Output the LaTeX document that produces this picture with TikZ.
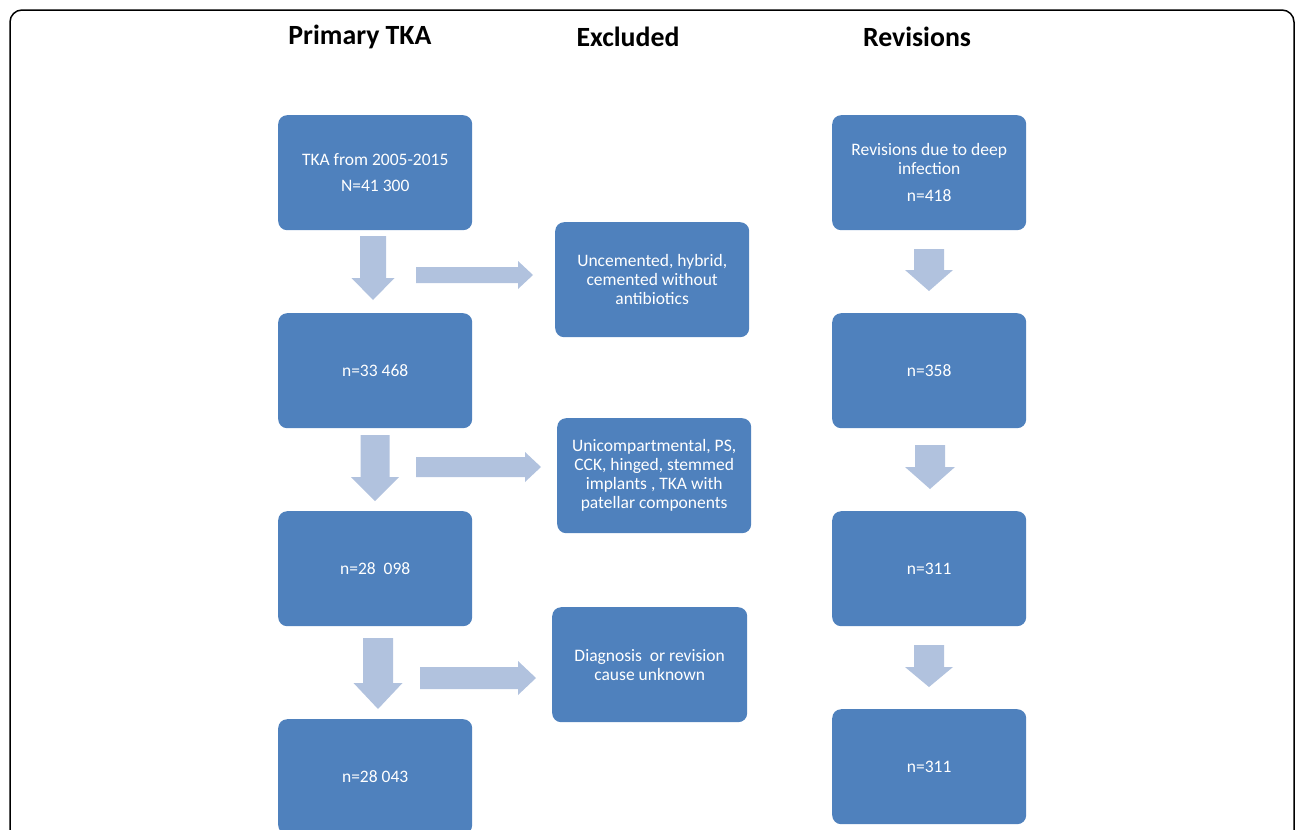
\documentclass[tikz,border=0pt]{standalone}
\usepackage{fontspec}
\setmainfont{Carlito}
\definecolor{boxblue}{HTML}{4F81BD}
\definecolor{arrowblue}{HTML}{B1C2DE}
\newcommand\dnarr[6]{% cx, top, headstart, tip, shaft half, head half
  \fill[arrowblue] ({#1-#5},#2) -- ({#1+#5},#2) -- ({#1+#5},#3) -- ({#1+#6},#3) -- (#1,#4) -- ({#1-#6},#3) -- ({#1-#5},#3) -- cycle;}
\newcommand\rtarr[6]{% cy, left, headstart, tip, shaft half, head half
  \fill[arrowblue] (#2,{#1-#5}) -- (#3,{#1-#5}) -- (#3,{#1-#6}) -- (#4,#1) -- (#3,{#1+#6}) -- (#3,{#1+#5}) -- (#2,{#1+#5}) -- cycle;}
\tikzset{
  box/.style={fill=boxblue, draw=none, rounded corners=9pt, minimum width=194pt, minimum height=115pt,
    text=white, align=center, font=\fontsize{17.5}{19}\selectfont, inner sep=0pt, anchor=north west},
  hdr/.style={font=\bfseries\fontsize{27.8}{32}\selectfont, anchor=center}
}
\begin{document}
\begin{tikzpicture}[x=1pt,y=-1pt]
\useasboundingbox (0,0) rectangle (1296,830);
\draw[line width=1.5pt, rounded corners=12pt] (10,860) -- (10,10) -- (1294,10) -- (1294,860);
\node[hdr] (h1) at (360,37) {Primary TKA};
\node[hdr] (h2) at (628,37) {Excluded};
\node[hdr] (h3) at (917,37) {Revisions};
% primary
\node[box] (a1) at (278,115) {TKA from 2005-2015\\[7pt]N=41 300};
\node[box] (a2) at (278,313) {n=33 468};
\node[box] (a3) at (278,511) {n=28\ \ 098};
\node[box] (a4) at (278,719) {n=28 043};
% excluded
\node[box] (e1) at (555,222) {Uncemented, hybrid,\\cemented without\\antibiotics};
\node[box] (e2) at (557,418) {Unicompartmental, PS,\\CCK, hinged, stemmed\\implants , TKA with\\patellar components};
\node[box, minimum width=195pt] (e3) at (552,607) {Diagnosis\ \ or revision\\cause unknown};
% revisions
\node[box] (r1) at (832,115) {Revisions due to deep\\infection\\[8pt]n=418};
\node[box] (r2) at (832,313) {n=358};
\node[box] (r3) at (832,511) {n=311};
\node[box] (r4) at (832,709) {n=311};
% block arrows
\dnarr{373}{236}{278}{300}{13}{21.5}
\dnarr{375}{435}{477}{501}{14.5}{24}
\dnarr{378}{638}{683}{709}{15}{24.5}
\rtarr{275}{416}{518}{533}{8}{14}
\rtarr{467}{416}{525}{541}{10}{15}
\rtarr{678}{420}{518}{536}{11}{17}
\dnarr{929}{249}{270}{291}{15}{24}
\dnarr{930}{445}{467}{489}{15}{25}
\dnarr{929}{645}{667}{687}{15}{24}
\end{tikzpicture}
\end{document}
